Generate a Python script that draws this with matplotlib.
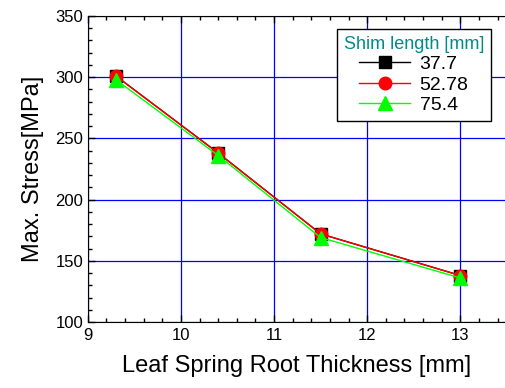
import matplotlib.pyplot as plt
from matplotlib.ticker import MultipleLocator

plt.rcParams['font.family'] = ['Liberation Sans', 'DejaVu Sans']

# Datos
thickness = [9.3, 10.4, 11.5, 13.0]
stress_37_7 = [301, 238, 172, 138]
stress_52_78 = [301, 238, 172, 138]
stress_75_4 = [298, 236, 169, 136]
labels = ['37.7', '52.78', '75.4']

fig = plt.figure(figsize=(5.05, 3.88), dpi=100)
ax = fig.add_axes([0.174, 0.170, 0.826, 0.789])

ax.plot(thickness, stress_37_7, color='black', marker='s', markersize=8, lw=1, label=labels[0])
ax.plot(thickness, stress_52_78, color='red', marker='o', markersize=9, lw=1, label=labels[1])
ax.plot(thickness, stress_75_4, color='#00ff00', marker='^', markersize=10, lw=1, label=labels[2])

ax.set_xlim(9, 13.48)
ax.set_ylim(100, 350)
ax.xaxis.set_major_locator(MultipleLocator(1))
ax.xaxis.set_minor_locator(MultipleLocator(0.2))
ax.yaxis.set_major_locator(MultipleLocator(50))
ax.yaxis.set_minor_locator(MultipleLocator(10))
ax.tick_params(which='both', direction='in', top=True, right=False, labelsize=12)
ax.tick_params(which='major', length=5, width=1)
ax.tick_params(which='minor', length=3, width=1)
ax.tick_params(axis='x', pad=4)
ax.grid(True, which='major', color='blue', lw=0.9)
ax.set_axisbelow(True)
ax.spines['right'].set_visible(False)

ax.set_xlabel('Leaf Spring Root Thickness [mm]', fontsize=17, labelpad=9)
ax.set_ylabel('Max. Stress[MPa]', fontsize=17, labelpad=8)

leg = ax.legend(title='Shim length [mm]', loc='upper right', bbox_to_anchor=(0.966, 0.958),
                fontsize=14, title_fontsize=13, fancybox=False, edgecolor='black',
                framealpha=1, handlelength=2.6, handletextpad=0.5, borderpad=0.35,
                labelspacing=0.15, borderaxespad=0)
leg.get_title().set_color('#008b8b')
leg.get_frame().set_linewidth(1)

fig.savefig('out.png', dpi=100)
